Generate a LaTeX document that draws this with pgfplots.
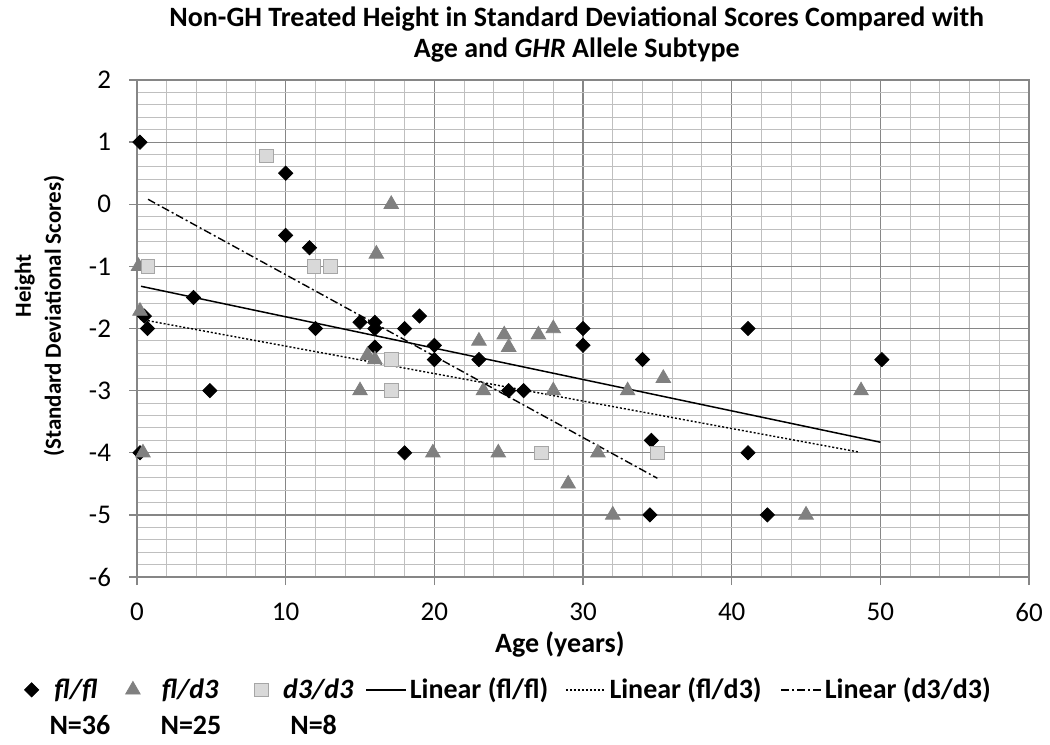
\documentclass[border=0pt]{standalone}
\usepackage{pgfplots}
\pgfplotsset{compat=1.18}
\usepackage{fontspec}
\setmainfont{Carlito}

\definecolor{majgrid}{RGB}{134,134,134}
\definecolor{mingrid}{RGB}{191,191,191}
\definecolor{trigray}{RGB}{128,128,128}
\definecolor{sqfill}{RGB}{217,217,217}
\definecolor{sqdraw}{RGB}{166,166,166}

% legend image: one mark, with room to its left (#1) and right (#2)
\pgfplotsset{
  markleg/.style 2 args={legend image code/.code={\draw[##1] plot coordinates {(0cm,0cm)}; \path (-#1,0cm) (#2,0cm);}},
  lineleg/.style={legend image code/.code={\draw[##1] (0cm,0cm) -- (0.7cm,0cm);}},
  every axis title shift=0pt,
}

\begin{document}
\begin{tikzpicture}
\begin{axis}[
  scale only axis, width=446pt, height=248.5pt,
  xmin=0, xmax=60, ymin=-6, ymax=2,
  xtick={0,10,...,60}, ytick={-6,-5,...,2},
  minor x tick num=4, minor y tick num=4,
  grid=both,
  major grid style={draw=majgrid, line width=0.6pt},
  minor grid style={draw=mingrid, line width=0.5pt},
  axis line style={draw=majgrid, line width=0.7pt},
  tick align=outside, major tick length=4pt, minor tick length=0pt,
  major tick style={draw=majgrid, line width=0.7pt},
  xtick pos=bottom, ytick pos=left,
  /pgf/number format/assume math mode=true,
  tick label style={font=\fontsize{13.5}{15}\selectfont},
  xticklabel style={yshift=-5.5pt},
  yticklabel style={xshift=-5.5pt},
  title={Non-GH Treated Height in Standard Deviational Scores Compared with\\Age and \textit{GHR} Allele Subtype},
  title style={font=\bfseries\fontsize{14}{15.5}\selectfont, align=center, inner sep=0pt,
    at={(rel axis cs:0.493,1.149)}, anchor=north},
  xlabel={Age (years)},
  xlabel style={font=\bfseries\fontsize{14}{16}\selectfont, inner sep=0pt,
    at={(rel axis cs:0.474,-0.109)}, anchor=north},
  ylabel={\hspace*{30pt}Height\\(Standard Deviational Scores)},
  ylabel style={font=\bfseries\fontsize{11.5}{15}\selectfont, align=center, inner sep=0pt,
    at={(rel axis cs:-0.081,0.525)}, anchor=south},
  clip=false,
  legend columns=6,
  legend style={draw=none, fill=none, at={(rel axis cs:-0.148,-0.227)}, anchor=west,
    font=\bfseries\fontsize{14}{16}\selectfont, nodes={inner sep=1.5pt},
    /tikz/column 2/.style={column sep=12.5pt},
    /tikz/column 4/.style={column sep=16.5pt},
    /tikz/column 6/.style={column sep=4.5pt},
    /tikz/column 8/.style={column sep=7pt},
    /tikz/column 10/.style={column sep=8pt}},
]
% fl/fl
\addplot[only marks, mark=square*, mark size=2.5pt, markleg={0.35cm}{0.34cm},
  mark options={rotate=45, fill=black, draw=black}]
coordinates {
(0.2,1) (10,0.5) (10,-0.5) (11.6,-0.7) (3.8,-1.5) (0.5,-1.8) (0.7,-2) (12,-2)
(15,-1.9) (16,-1.9) (16,-2) (16,-2.3) (18,-2) (19,-1.8) (20,-2.27) (20,-2.5)
(23,-2.5) (25,-3) (26,-3) (30,-2) (30,-2.27) (34,-2.5) (34.6,-3.8) (34.5,-5)
(41.1,-2) (41.1,-4) (42.4,-5) (50.1,-2.5) (4.9,-3) (18,-4) (0.2,-4)
};
\addlegendentry{\textit{fl/fl}}
% fl/d3
\addplot[only marks, mark=triangle*, mark size=4.2pt, markleg={0.1cm}{0.447cm},
  mark options={fill=trigray, draw=trigray}]
coordinates {
(0.1,-1) (0.2,-1.72) (0.4,-4) (17.1,0) (16.1,-0.8) (15.5,-2.43) (16,-2.5) (15,-3)
(19.9,-4) (23,-2.2) (24.7,-2.1) (25,-2.3) (27,-2.1) (28,-2) (23.3,-3) (28,-3)
(33,-3) (35.4,-2.8) (24.3,-4) (31,-4) (29,-4.5) (32,-5) (48.7,-3) (45,-5)
};
\addlegendentry{\textit{fl/d3}}
% d3/d3
\addplot[only marks, mark=square*, mark size=3.4pt, markleg={0.1cm}{0.324cm},
  mark options={fill=sqfill, draw=sqdraw}]
coordinates {
(8.7,0.78) (0.74,-1) (11.9,-1) (13,-1) (17.1,-2.5) (17.1,-3) (27.2,-4) (35,-4)
};
\addlegendentry{\textit{d3/d3}}
% trend lines
\addplot[black, line width=0.75pt, no marks, lineleg] coordinates {(0.27,-1.32) (50,-3.83)};
\addlegendentry{Linear (fl/fl)}
\addplot[black, line width=0.7pt, no marks, lineleg, dash pattern=on 1pt off 1pt] coordinates {(0.2,-1.85) (48.6,-3.99)};
\addlegendentry{Linear (fl/d3)}
\addplot[black, line width=0.7pt, no marks, lineleg, dash pattern=on 4pt off 1.5pt on 1pt off 1.5pt] coordinates {(0.74,0.08) (35,-4.41)};
\addlegendentry{Linear (d3/d3)}

\node[font=\bfseries\fontsize{14}{16}\selectfont] at (rel axis cs:-0.064,-0.298) {N=36};
\node[font=\bfseries\fontsize{14}{16}\selectfont] at (rel axis cs:0.0605,-0.298) {N=25};
\node[font=\bfseries\fontsize{14}{16}\selectfont] at (rel axis cs:0.198,-0.298) {N=8};

\coordinate (bl) at (rel axis cs:-0.1536,-0.336);
\coordinate (tr) at (rel axis cs:1.0235,1.161);
\end{axis}
\pgfresetboundingbox
\path (bl) rectangle (tr);
\end{tikzpicture}
\end{document}
